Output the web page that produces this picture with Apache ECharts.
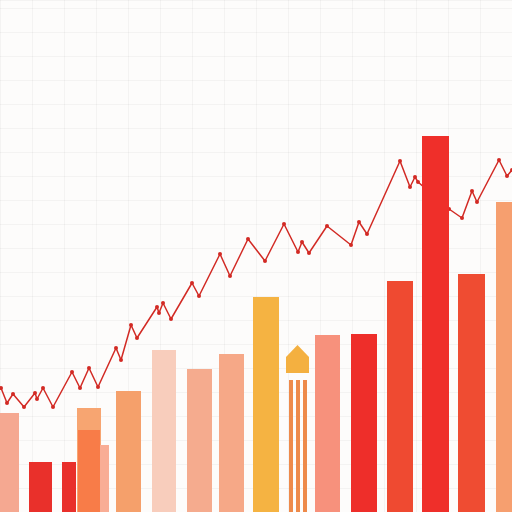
<!DOCTYPE html>
<html><head><meta charset="utf-8">
<script src="https://cdn.jsdelivr.net/npm/echarts@6/dist/echarts.min.js"></script>
<style>html,body{margin:0;padding:0;background:#fdfcfb}#c{width:512px;height:512px}</style>
</head><body><div id="c"></div>
<script>
// Bars: start / end positions on the horizontal scale, heights, colours
var barStart = [0, 29, 62, 77, 100, 116, 152, 187, 219, 253, 315, 351, 387, 422, 458, 496, 78];
var barEnd   = [19, 52, 76, 101, 109, 141, 176, 212, 244, 279, 340, 377, 413, 449, 485, 512, 100];
var barValue = [99, 50, 50, 104, 67, 121, 162, 143, 158, 215, 177, 178, 231, 376, 238, 310, 82];
var barColor = ['#f5a891','#e9302b','#e9302b','#f7a571','#f9ad95','#f5a06b','#f8cdbc','#f5ab8e','#f6a887','#f5b342','#f7917c','#ee2e2a','#ef4a31','#ef2f2a','#ef4c32','#f69f6f','#f87c48'];

// Small "house" marker with stripes
var houseLeft = 286, houseRight = 309, housePeak = 167, houseShoulder = 155, houseBase = 139;
var stripeStart = [289, 296, 303];
var stripeEnd   = [293, 300, 307];
var stripeValue = [132, 132, 132];

// Line series
var lineX = [1,7,13,24,35,37,43,53,72,80,89,98,116,121,131,137,157,159,163,171,192,199,220,230,248,265,284,298,302,309,327,351,359,367,400,410,415,418,449,462,472,477,499,507,512];
var lineY = [124,109,118,105,119,113,124,105,140,124,144,125,164,152,187,174,205,199,209,193,229,216,258,236,273,251,288,260,270,259,286,267,290,278,351,325,335,330,303,294,321,310,352,336,342];

var barData = barStart.map(function(s,i){ return [s, barEnd[i], barValue[i], i]; });
var stripeData = stripeStart.map(function(s,i){ return [s, stripeEnd[i], stripeValue[i]]; });
var lineData = lineX.map(function(x,i){ return [x, lineY[i]]; });

var chart = echarts.init(document.getElementById('c'));
chart.setOption({
  backgroundColor: '#fdfcfb',
  animation: false,
  grid: {left: 0, right: 0, top: 0, bottom: 0},
  xAxis: {type: 'value', min: 0, max: 512, interval: 32,
    axisLabel: {show: false}, axisTick: {show: false}, axisLine: {show: false},
    splitLine: {lineStyle: {color: 'rgba(0,0,0,0.035)'}}},
  yAxis: {type: 'value', min: 0, max: 512, interval: 24,
    axisLabel: {show: false}, axisTick: {show: false}, axisLine: {show: false},
    splitLine: {lineStyle: {color: 'rgba(0,0,0,0.035)'}}},
  series: [
    {type: 'line', data: lineData, z: 1, symbol: 'circle', symbolSize: 4,
     lineStyle: {color: '#d22a24', width: 1.5}, itemStyle: {color: '#d22a24'}},
    {type: 'custom', data: barData, z: 3,
     renderItem: function(params, api){
       var p0 = api.coord([api.value(0), 0]);
       var p1 = api.coord([api.value(1), api.value(2)]);
       return {type: 'rect', shape: {x: p0[0], y: p1[1], width: p1[0]-p0[0], height: p0[1]-p1[1]},
               style: {fill: barColor[api.value(3)]}};
     }},
    {type: 'custom', data: stripeData, z: 3,
     renderItem: function(params, api){
       var p0 = api.coord([api.value(0), 0]);
       var p1 = api.coord([api.value(1), api.value(2)]);
       return {type: 'rect', shape: {x: p0[0], y: p1[1], width: p1[0]-p0[0], height: p0[1]-p1[1]},
               style: {fill: '#ee8a4a'}};
     }},
    {type: 'custom', data: [[houseLeft, houseRight, housePeak, houseShoulder, houseBase]], z: 3,
     renderItem: function(params, api){
       var l = api.value(0), r = api.value(1), m = (l + r) / 2;
       var pts = [[l, api.value(4)], [l, api.value(3)], [m, api.value(2)], [r, api.value(3)], [r, api.value(4)]]
         .map(function(p){ return api.coord(p); });
       return {type: 'polygon', shape: {points: pts}, style: {fill: '#f4b040'}};
     }}
  ]
});
</script></body></html>
